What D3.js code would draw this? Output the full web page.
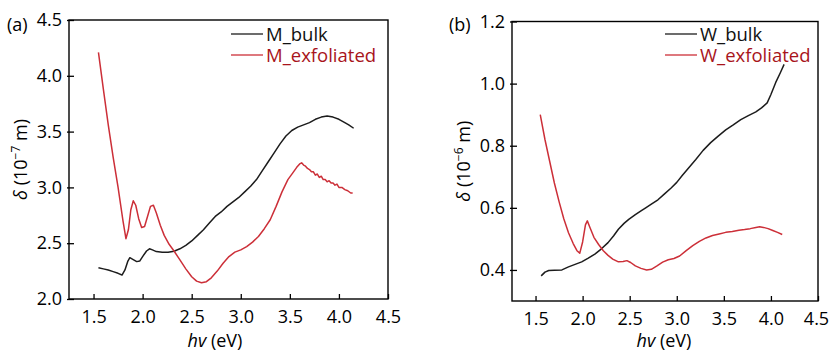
<!DOCTYPE html>
<html>
<head>
<meta charset="utf-8">
<script src="https://cdn.jsdelivr.net/npm/d3@7"></script>
<style>
  body { margin: 0; background: #fff; }
  svg text { font-family: "Open Sans", sans-serif; }
</style>
</head>
<body>
<svg id="chart" width="829" height="351"></svg>
<script>
// photon energy (eV) and penetration depth

const xTicks = [1.5, 2.0, 2.5, 3.0, 3.5, 4.0, 4.5];
const mTicks = [2.0, 2.5, 3.0, 3.5, 4.0, 4.5];
const wTicks = [0.4, 0.6, 0.8, 1.0, 1.2];

const mBulkE = [1.55, 1.60, 1.65, 1.70, 1.75, 1.79, 1.82, 1.85, 1.87, 1.90, 1.94, 1.97, 2.00, 2.04, 2.07, 2.10,
  2.14, 2.20, 2.26, 2.32, 2.38, 2.44, 2.50, 2.56, 2.62, 2.68, 2.74, 2.80, 2.86, 2.92, 2.98, 3.04, 3.10, 3.16,
  3.22, 3.28, 3.34, 3.40, 3.46, 3.52, 3.58, 3.64, 3.70, 3.76, 3.82, 3.88, 3.94, 4.00, 4.06, 4.10, 4.15];
const mBulkD = [2.28, 2.27, 2.26, 2.245, 2.23, 2.215, 2.26, 2.34, 2.37, 2.355, 2.335, 2.34, 2.38, 2.43, 2.45, 2.44,
  2.425, 2.418, 2.418, 2.428, 2.45, 2.48, 2.52, 2.57, 2.62, 2.68, 2.74, 2.78, 2.83, 2.87, 2.91, 2.96, 3.01, 3.07,
  3.15, 3.23, 3.31, 3.39, 3.46, 3.51, 3.54, 3.56, 3.58, 3.61, 3.63, 3.64, 3.63, 3.61, 3.58, 3.56, 3.53];

const mExfE = [1.55, 1.60, 1.65, 1.70, 1.75, 1.80, 1.83, 1.855, 1.88, 1.905, 1.93, 1.96, 1.99, 2.02, 2.05, 2.08,
  2.11, 2.14, 2.18, 2.22, 2.27, 2.32, 2.38, 2.44, 2.50, 2.55, 2.60, 2.65, 2.70, 2.76, 2.82, 2.88, 2.94, 3.00,
  3.06, 3.12, 3.18, 3.24, 3.30, 3.36, 3.42, 3.48, 3.53, 3.57, 3.60, 3.62, 3.64, 3.66, 3.68, 3.70, 3.72, 3.74,
  3.76, 3.78, 3.80, 3.82, 3.84, 3.86, 3.88, 3.90, 3.92, 3.94, 3.96, 3.98, 4.00, 4.03, 4.06, 4.09, 4.12, 4.14];
const mExfD = [4.21, 3.88, 3.56, 3.27, 3.00, 2.70, 2.54, 2.62, 2.80, 2.88, 2.84, 2.72, 2.64, 2.65, 2.74, 2.83,
  2.84, 2.77, 2.66, 2.57, 2.49, 2.43, 2.35, 2.27, 2.20, 2.16, 2.145, 2.155, 2.19, 2.25, 2.32, 2.38, 2.42, 2.44,
  2.47, 2.51, 2.56, 2.63, 2.71, 2.83, 2.96, 3.07, 3.13, 3.18, 3.21, 3.22, 3.20, 3.19, 3.17, 3.16, 3.14, 3.14,
  3.11, 3.12, 3.09, 3.10, 3.07, 3.07, 3.05, 3.06, 3.04, 3.04, 3.02, 3.03, 3.00, 3.00, 2.98, 2.97, 2.95, 2.95];

const wBulkE = [1.56, 1.60, 1.64, 1.70, 1.78, 1.85, 1.92, 1.99, 2.06, 2.13, 2.20, 2.27, 2.33, 2.38, 2.44, 2.49,
  2.56, 2.62, 2.67, 2.73, 2.80, 2.87, 2.94, 3.00, 3.06, 3.13, 3.20, 3.28, 3.36, 3.44, 3.52, 3.60, 3.68, 3.76,
  3.84, 3.90, 3.96, 4.00, 4.05, 4.10, 4.14];
const wBulkD = [0.381, 0.393, 0.398, 0.399, 0.400, 0.410, 0.418, 0.426, 0.438, 0.451, 0.468, 0.488, 0.510, 0.531,
  0.550, 0.563, 0.578, 0.590, 0.600, 0.612, 0.626, 0.645, 0.664, 0.682, 0.705, 0.730, 0.755, 0.785, 0.810, 0.831,
  0.851, 0.867, 0.884, 0.897, 0.909, 0.922, 0.938, 0.965, 1.003, 1.035, 1.062];

const wExfE = [1.55, 1.60, 1.65, 1.70, 1.75, 1.80, 1.85, 1.90, 1.94, 1.97, 2.00, 2.03, 2.05, 2.08, 2.12, 2.17,
  2.22, 2.27, 2.32, 2.38, 2.43, 2.47, 2.51, 2.56, 2.62, 2.68, 2.73, 2.79, 2.85, 2.91, 2.97, 3.03, 3.10, 3.17,
  3.24, 3.31, 3.38, 3.45, 3.52, 3.59, 3.66, 3.72, 3.78, 3.84, 3.88, 3.92, 3.97, 4.02, 4.07, 4.12];
const wExfD = [0.90, 0.82, 0.75, 0.68, 0.62, 0.565, 0.52, 0.485, 0.462, 0.454, 0.49, 0.545, 0.558, 0.535, 0.505,
  0.482, 0.462, 0.447, 0.435, 0.426, 0.427, 0.430, 0.424, 0.413, 0.405, 0.400, 0.402, 0.413, 0.425, 0.433, 0.437,
  0.445, 0.462, 0.478, 0.492, 0.503, 0.511, 0.516, 0.521, 0.524, 0.528, 0.530, 0.533, 0.537, 0.539, 0.537, 0.533,
  0.527, 0.521, 0.514];

const BLACK = "#1c1c1c";
const RED = "#cc2f38";
const RED_TEXT = "#a8141b";

const svg = d3.select("#chart");
const zip = (xs, ys) => xs.map((e, i) => [e, ys[i]]);

function drawPanel(opts) {
  const x = d3.scaleLinear().domain([1.25, 4.5]).range([opts.left, opts.right]);
  const y = d3.scaleLinear().domain(opts.yDomain).range([opts.bottom, opts.top]);
  const g = svg.append("g");

  g.append("g")
    .attr("transform", `translate(0,${opts.bottom})`)
    .call(d3.axisBottom(x).tickValues(xTicks).tickFormat(d3.format(".1f"))
      .tickSizeInner(-5).tickSizeOuter(0).tickPadding(11))
    .call(a => a.select(".domain").remove())
    .attr("font-family", null)
    .attr("font-size", 18)
    .call(a => a.selectAll("line").attr("stroke-width", 1.3))
    // keep the last label inside the window
    .call(a => a.selectAll("text").filter(d => d === 4.5).attr("dx", opts.lastTickShift));

  g.append("g")
    .attr("transform", `translate(${opts.left},0)`)
    .call(d3.axisLeft(y).tickValues(opts.yTicks).tickFormat(d3.format(".1f"))
      .tickSizeInner(-5).tickSizeOuter(0).tickPadding(7))
    .call(a => a.select(".domain").remove())
    .attr("font-family", null)
    .attr("font-size", 18)
    .call(a => a.selectAll("line").attr("x1", -2).attr("stroke-width", 1.3));

  g.append("rect")
    .attr("x", opts.left).attr("y", opts.top)
    .attr("width", opts.right - opts.left).attr("height", opts.bottom - opts.top)
    .attr("fill", "none").attr("stroke", "#000").attr("stroke-width", 1.4);

  const line = d3.line().x(d => x(d[0])).y(d => y(d[1]));

  opts.series.forEach(s => {
    g.append("path")
      .datum(zip(s.e, s.d))
      .attr("fill", "none")
      .attr("stroke", s.color)
      .attr("stroke-width", 1.5)
      .attr("stroke-linejoin", "round")
      .attr("d", line);
  });

  // legend
  const lg = g.append("g").attr("transform", `translate(${opts.right - opts.legendOffset},34)`);
  opts.series.forEach((s, i) => {
    lg.append("line")
      .attr("x1", 0).attr("x2", 32)
      .attr("y1", i * 21).attr("y2", i * 21)
      .attr("stroke", s.color).attr("stroke-width", 1.3);
    lg.append("text")
      .attr("x", 35).attr("y", i * 21)
      .attr("dy", "0.36em")
      .attr("font-size", 18.5)
      .attr("fill", s.textColor)
      .text(s.name);
  });

  // axis titles
  svg.append("text")
    .attr("x", opts.xLabelX).attr("y", 347)
    .attr("text-anchor", "middle")
    .attr("font-size", 18)
    .call(t => t.append("tspan").attr("font-style", "italic").text("hv"))
    .call(t => t.append("tspan").text(" (eV)"));

  svg.append("text")
    .attr("transform", `translate(${opts.left - 42},${(opts.top + opts.bottom) / 2}) rotate(-90)`)
    .attr("text-anchor", "middle")
    .attr("font-size", 18)
    .call(t => t.append("tspan").attr("font-style", "italic").text("δ"))
    .call(t => t.append("tspan").text(" (10"))
    .call(t => t.append("tspan").attr("font-size", 12).attr("dy", -7).text(opts.exponent))
    .call(t => t.append("tspan").attr("dy", 7).text(" m)"));

  svg.append("text")
    .attr("x", opts.tagX).attr("y", 31)
    .attr("font-size", 18)
    .text(opts.tag);
}

drawPanel({
  left: 69, right: 388, top: 20, bottom: 299,
  yDomain: [2.0, 4.5], yTicks: mTicks,
  exponent: "\u22127", tag: "(a)", tagX: 7, xLabelX: 215, legendOffset: 157, lastTickShift: 0,
  series: [
    { name: "M_bulk", e: mBulkE, d: mBulkD, color: BLACK, textColor: "#111" },
    { name: "M_exfoliated", e: mExfE, d: mExfD, color: RED, textColor: RED_TEXT }
  ]
});

drawPanel({
  left: 512, right: 818, top: 21.5, bottom: 301,
  yDomain: [0.3, 1.2], yTicks: wTicks,
  exponent: "\u22126", tag: "(b)", tagX: 449, xLabelX: 664, legendOffset: 153, lastTickShift: -2,
  series: [
    { name: "W_bulk", e: wBulkE, d: wBulkD, color: BLACK, textColor: "#111" },
    { name: "W_exfoliated", e: wExfE, d: wExfD, color: RED, textColor: RED_TEXT }
  ]
});
</script>
</body>
</html>
